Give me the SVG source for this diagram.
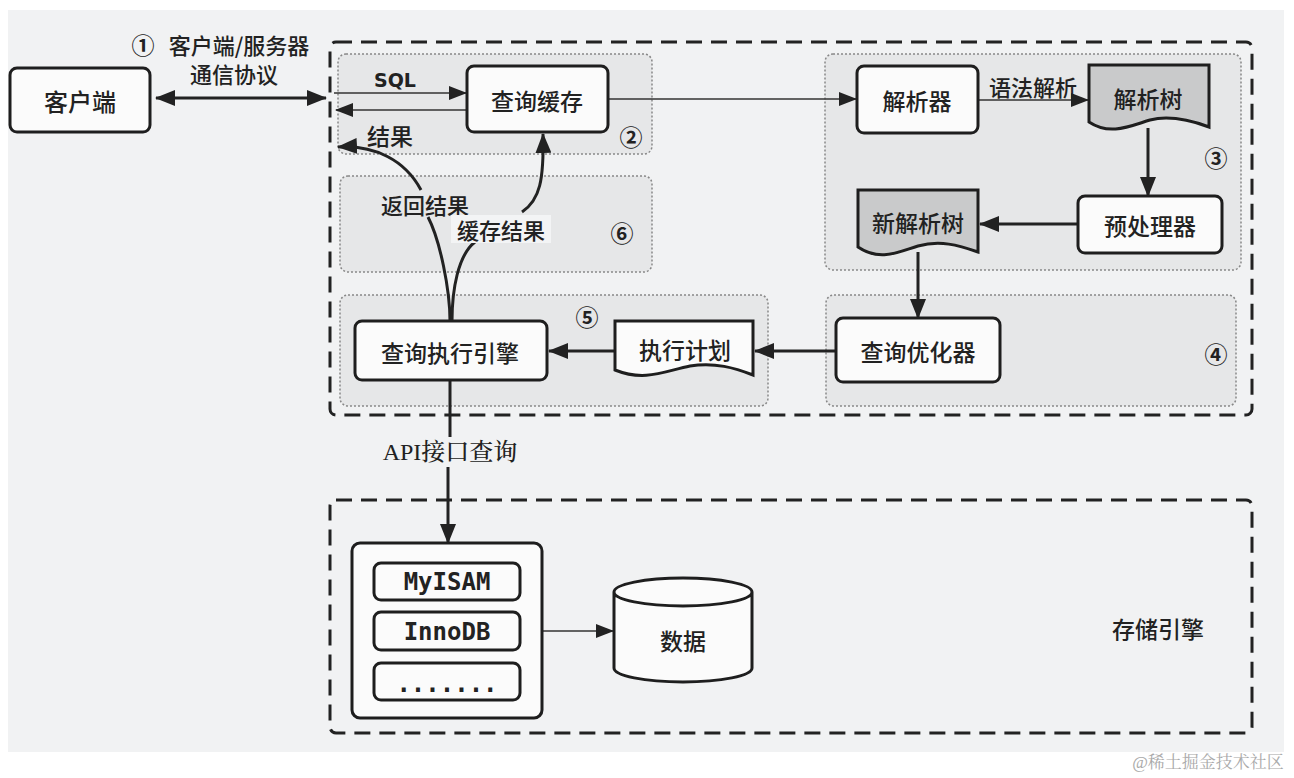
<svg xmlns="http://www.w3.org/2000/svg" width="1294" height="778" viewBox="0 0 1294 778">
<style>
text{font-family:"Noto Sans CJK SC","Noto Sans",sans-serif;fill:#222;font-weight:500}
.t{font-size:23px;text-anchor:middle;dominant-baseline:central}
.s{font-size:22px}
.num{font-family:"Noto Sans CJK SC","DejaVu Sans",sans-serif;font-size:23px;text-anchor:middle;dominant-baseline:central;font-weight:700}
.box{fill:#fbfbfb;stroke:#1e1e1e;stroke-width:3}
.doc{fill:#c9cacb;stroke:#1e1e1e;stroke-width:3}
.zone{fill:#e6e7e8;stroke:#888;stroke-width:1.5;stroke-dasharray:2 2}
.dash{fill:none;stroke:#222;stroke-width:3;stroke-dasharray:16 9}
.thick{fill:none;stroke:#222;stroke-width:3}
.thin{fill:none;stroke:#333;stroke-width:1.5}
.mono{font-family:"DejaVu Sans Mono","Liberation Mono",monospace;font-size:24px;text-anchor:middle;dominant-baseline:central;font-weight:600}
</style>
<defs>
<marker id="ah" markerUnits="userSpaceOnUse" markerWidth="20" markerHeight="16" refX="19" refY="8" orient="auto-start-reverse"><path d="M0,0 L20,8 L0,16 Z" fill="#222"/></marker>
<marker id="as" markerUnits="userSpaceOnUse" markerWidth="18" markerHeight="14" refX="17" refY="7" orient="auto-start-reverse"><path d="M0,0 L18,7 L0,14 Z" fill="#222"/></marker>
</defs>
<rect x="0" y="0" width="1294" height="778" fill="#ffffff"/>
<rect x="8" y="10" width="1276" height="742" fill="#f1f2f3"/>

<g id="zones">
<rect class="zone" x="338" y="54" width="314" height="100" rx="8"/>
<rect class="zone" x="340" y="176" width="312" height="96" rx="8"/>
<rect class="zone" x="825" y="54" width="416" height="216" rx="8"/>
<rect class="zone" x="340" y="295" width="428" height="111" rx="8"/>
<rect class="zone" x="826" y="295" width="410" height="111" rx="8"/>
<rect class="dash" x="330" y="42" width="922" height="373" rx="6"/>
<rect class="dash" x="330" y="500" width="922" height="233" rx="6"/>
</g>

<g id="connectors">
<line class="thick" x1="156" y1="98" x2="326" y2="98" marker-start="url(#ah)" marker-end="url(#ah)"/>
<line class="thin" x1="334" y1="93" x2="466" y2="93" marker-end="url(#as)"/>
<line class="thin" x1="466" y1="110" x2="336" y2="110" marker-end="url(#as)"/>
<line class="thin" x1="609" y1="99" x2="856" y2="99" marker-end="url(#as)"/>
<line class="thin" x1="979" y1="100" x2="1088" y2="100" marker-end="url(#as)"/>
<line class="thick" x1="1148" y1="128" x2="1148" y2="196" marker-end="url(#ah)"/>
<line class="thick" x1="1077" y1="224" x2="980" y2="224" marker-end="url(#ah)"/>
<line class="thick" x1="918" y1="252" x2="918" y2="318" marker-end="url(#ah)"/>
<line class="thick" x1="836" y1="351" x2="755" y2="351" marker-end="url(#ah)"/>
<line class="thick" x1="615" y1="351" x2="549" y2="351" marker-end="url(#ah)"/>
<path class="thick" d="M450,321 C450,290 440,240 428,217"/>
<path class="thick" d="M421,190 C405,160 375,145 338,147" marker-end="url(#ah)"/>
<path class="thick" d="M452,321 C452,290 458,255 475,242"/>
<path class="thick" d="M522,212 C540,200 544,180 543,134" marker-end="url(#ah)"/>
<line class="thick" x1="450" y1="380" x2="450" y2="437"/>
<line class="thick" x1="448" y1="467" x2="448" y2="543" marker-end="url(#ah)"/>
<line class="thin" x1="543" y1="631" x2="613" y2="631" marker-end="url(#as)"/>
</g>

<g id="labels">
<text class="num" x="143" y="44">①</text>
<text class="t s" x="239" y="44">客户端/服务器</text>
<text class="t s" x="234" y="73">通信协议</text>
<text x="395" y="80" style="font-family:'DejaVu Sans','Liberation Sans',sans-serif;font-size:19px;font-weight:600;text-anchor:middle;dominant-baseline:central">SQL</text>
<text class="t" x="390" y="135">结果</text>
<text class="num" x="631" y="136">②</text>
<text class="t s" x="1033" y="86">语法解析</text>
<text class="num" x="1216" y="157">③</text>
<text class="num" x="1216" y="353">④</text>
<text class="num" x="587" y="316">⑤</text>
<text class="num" x="622" y="232">⑥</text>
<text class="t s" x="425" y="204">返回结果</text>
<rect x="451" y="215" width="100" height="28" fill="#f3f4f5"/>
<text class="t s" x="501" y="229">缓存结果</text>
<text x="450" y="452" style="font-family:'Liberation Serif','Noto Serif CJK SC','Noto Sans CJK SC',serif;font-size:24px;text-anchor:middle;dominant-baseline:central">API接口查询</text>
<text class="t" x="1158" y="628">存储引擎</text>
<text x="1208" y="762" style="font-family:'Liberation Serif','Noto Serif CJK SC','Noto Sans CJK SC',serif;font-size:17px;fill:#aaa;font-weight:400;text-anchor:middle;dominant-baseline:central">@稀土掘金技术社区</text>
</g>

<g id="client"><rect class="box" x="10" y="68" width="140" height="64" rx="7"/><text class="t" x="80" y="100" style="font-size:24px">客户端</text></g>
<g id="query-cache"><rect class="box" x="467" y="66" width="141" height="66" rx="7"/><text class="t" x="537" y="100">查询缓存</text></g>
<g id="parser"><rect class="box" x="857" y="66" width="121" height="67" rx="7"/><text class="t" x="917" y="100">解析器</text></g>
<g id="parse-tree"><path class="doc" d="M1089,65 H1209 V127 C1190,120 1170,115 1150,120 C1130,126 1110,136 1089,122 Z"/><text class="t" x="1148" y="98">解析树</text></g>
<g id="preprocessor"><rect class="box" x="1078" y="196" width="144" height="57" rx="7"/><text class="t" x="1150" y="225">预处理器</text></g>
<g id="new-parse-tree"><path class="doc" d="M858,190 H978 V252 C958,245 940,240 918,246 C898,252 880,262 858,247 Z"/><text class="t" x="918" y="222">新解析树</text></g>
<g id="optimizer"><rect class="box" x="836" y="318" width="164" height="64" rx="7"/><text class="t" x="918" y="351">查询优化器</text></g>
<g id="exec-plan"><path class="box" d="M615,321 H753 V375 C735,368 715,362 690,366 C665,371 645,382 615,370 Z"/><text class="t" x="685" y="349">执行计划</text></g>
<g id="exec-engine"><rect class="box" x="355" y="321" width="192" height="59" rx="7"/><text class="t" x="450" y="352">查询执行引擎</text></g>
<g id="engines">
<rect class="box" x="352" y="543" width="190" height="175" rx="8"/>
<rect class="box" x="374" y="563" width="146" height="37" rx="7"/><text class="mono" x="447" y="582">MyISAM</text>
<rect class="box" x="374" y="612" width="146" height="38" rx="7"/><text class="mono" x="447" y="632">InnoDB</text>
<rect class="box" x="374" y="663" width="146" height="37" rx="7"/><text class="mono" x="447" y="684">.......</text>
</g>
<g id="data"><path class="box" d="M614,592 V668 A69,14 0 0 0 752,668 V592 A69,14 0 0 0 614,592 A69,14 0 0 0 752,592"/><text class="t" x="683" y="640">数据</text></g>
</svg>
